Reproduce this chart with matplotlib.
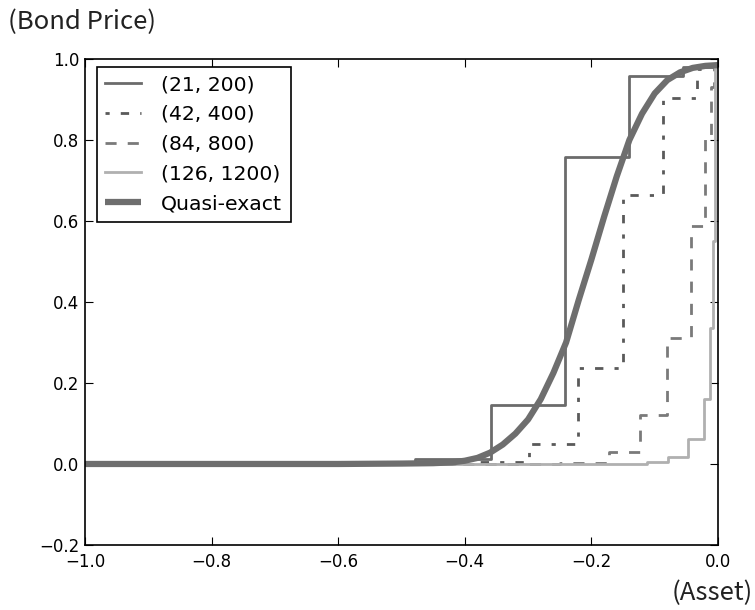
import matplotlib
matplotlib.use('Agg')
import matplotlib.pyplot as plt

plt.rcParams['font.family'] = ['DejaVu Sans']
plt.rcParams['axes.unicode_minus'] = True

# step curves (x where the step starts, value after the step)
x21 = [-1.0, -0.479, -0.358, -0.242, -0.14, -0.055, 0.0]
y21 = [0.0, 0.012, 0.146, 0.757, 0.957, 0.98, 0.985]

x42 = [-1.0, -0.376, -0.299, -0.221, -0.15, -0.087, -0.033, -0.024, 0.0]
y42 = [0.0, 0.005, 0.05, 0.237, 0.664, 0.904, 0.975, 0.982, 0.985]

x84 = [-1.0, -0.25, -0.172, -0.123, -0.08, -0.043, -0.021, -0.011, -0.007, 0.0]
y84 = [0.0, 0.003, 0.03, 0.12, 0.311, 0.588, 0.807, 0.93, 0.985, 0.985]

x126 = [-1.0, -0.112, -0.079, -0.048, -0.022, -0.013, -0.008, -0.004, 0.0]
y126 = [0.0, 0.004, 0.017, 0.062, 0.16, 0.335, 0.55, 0.98, 0.985]

# quasi-exact price
xq = [-1.0, -0.6, -0.5, -0.45, -0.42, -0.40, -0.38, -0.36, -0.34, -0.32, -0.30,
      -0.28, -0.26, -0.24, -0.22, -0.20, -0.18, -0.16, -0.14, -0.12, -0.10,
      -0.08, -0.06, -0.04, -0.02, 0.0]
yq = [0.0, 0.0, 0.001, 0.002, 0.004, 0.008, 0.015, 0.028, 0.048, 0.075, 0.11,
      0.16, 0.225, 0.30, 0.405, 0.505, 0.61, 0.71, 0.80, 0.865, 0.915,
      0.948, 0.967, 0.978, 0.983, 0.985]

labels = ['(21, 200)', '(42, 400)', '(84, 800)', '(126, 1200)', 'Quasi-exact']
xticks = [-1.0, -0.8, -0.6, -0.4, -0.2, 0.0]
yticks = [-0.2, 0.0, 0.2, 0.4, 0.6, 0.8, 1.0]


def fmt(v):
    s = '%.1f' % abs(v)
    return ('\u2212' + s) if v < 0 else s


fig = plt.figure(figsize=(7.55, 6.10), dpi=100)
ax = fig.add_axes([0.1126, 0.1066, 0.8384, 0.7967])

ax.plot(x21, y21, drawstyle='steps-post', color='#6b6b6b', lw=2, label=labels[0])
ax.plot(x42, y42, drawstyle='steps-post', color='#5a5a5a', lw=2,
        linestyle=(0, (1.5, 4, 3, 4)), label=labels[1])
ax.plot(x84, y84, drawstyle='steps-post', color='#7a7a7a', lw=2,
        linestyle=(0, (4, 4)), label=labels[2])
ax.plot(x126, y126, drawstyle='steps-post', color='#b0b0b0', lw=2, label=labels[3])
ax.plot(xq, yq, color='#6e6e6e', lw=4.5, label=labels[4], solid_capstyle='butt')

ax.set_xlim(-1.0, 0.0)
ax.set_ylim(-0.2, 1.0)
ax.set_xticks(xticks)
ax.set_yticks(yticks)
ax.set_xticklabels([fmt(v) for v in xticks])
ax.set_yticklabels([fmt(v) for v in yticks])
ax.tick_params(direction='in', top=True, right=True, length=6, labelsize=12)
ax.tick_params(axis='x', pad=6)
ax.tick_params(axis='y', pad=4)
for s in ax.spines.values():
    s.set_linewidth(1.2)

leg = ax.legend(loc='upper left', bbox_to_anchor=(0.019, 0.9835), borderaxespad=0,
                fontsize=14.7, handlelength=1.75, handletextpad=1.0,
                fancybox=False, framealpha=1, edgecolor='black', borderpad=0.4,
                labelspacing=0.53)
leg.get_frame().set_linewidth(1.2)

fig.text(0.011, 0.964, '(Bond Price)', fontsize=18.5, family=['Noto Sans CJK JP', 'DejaVu Sans'],
         va='center', ha='left', color='#222222')
fig.text(0.997, 0.028, '(Asset)', fontsize=18.5, family=['Noto Sans CJK JP', 'DejaVu Sans'],
         va='center', ha='right', color='#222222')

fig.savefig('out.png', dpi=100)
